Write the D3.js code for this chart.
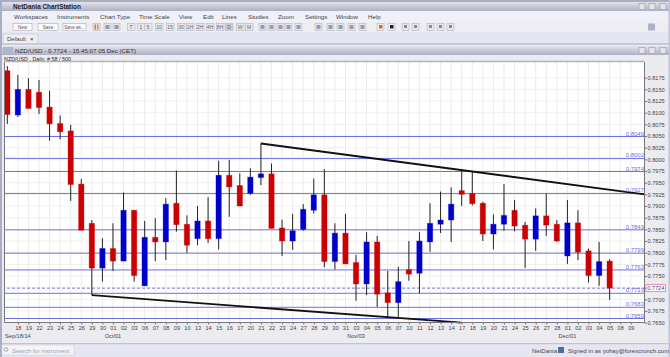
<!DOCTYPE html>
<html>
<head>
<meta charset="utf-8">
<script src="https://cdn.jsdelivr.net/npm/d3@7/dist/d3.min.js"></script>
<style>
  html, body { margin: 0; padding: 0; background: #ececf0; overflow: hidden; }
  svg { display: block; }
  text { font-family: "Liberation Sans", Arial, sans-serif; }
</style>
</head>
<body>
<svg id="page" width="670" height="357"></svg>
<script>
var dates = ['Sep 17','Sep 18','Sep 19','Sep 22','Sep 23','Sep 24','Sep 25','Sep 26','Sep 29','Sep 30',
  'Oct 01','Oct 02','Oct 03','Oct 06','Oct 07','Oct 08','Oct 09','Oct 10','Oct 13','Oct 14','Oct 15','Oct 16','Oct 17',
  'Oct 20','Oct 21','Oct 22','Oct 23','Oct 24','Oct 27','Oct 28','Oct 29','Oct 30','Oct 31',
  'Nov 03','Nov 04','Nov 05','Nov 06','Nov 07','Nov 10','Nov 11','Nov 12','Nov 13','Nov 14','Nov 17','Nov 18','Nov 19','Nov 20','Nov 21',
  'Nov 24','Nov 25','Nov 26','Nov 27','Nov 28','Dec 01','Dec 02','Dec 03','Dec 04','Dec 05'];
var opens = [.8190,.8095,.8150,.8144,.8112,.8077,.8061,.7947,.7863,.7767,
  .7809,.7782,.7891,.7729,.7833,.7823,.7906,.7861,.7830,.7868,.7830,.7966,.7944,
  .7927,.7961,.7969,.7853,.7825,.7850,.7891,.7924,.7781,.7842,
  .7779,.7733,.7823,.7714,.7693,.7764,.7756,.7823,.7861,.7870,.7933,.7927,.7906,.7840,.7861,
  .7891,.7859,.7829,.7879,.7861,.7793,.7864,.7804,.7751,.7782];
var highs = [.8200,.8181,.8174,.8170,.8147,.8094,.8074,.7958,.7870,.7831,
  .7863,.7929,.7891,.7868,.7874,.7917,.7976,.7880,.7900,.7919,.7997,.7999,.7970,
  .7981,.8034,.7991,.7871,.7883,.7904,.7959,.7979,.7863,.7883,
  .7795,.7844,.7836,.7761,.7770,.7825,.7844,.7906,.7931,.7940,.7977,.7974,.7909,.7882,.7947,
  .7913,.7866,.7895,.7927,.7870,.7913,.7891,.7809,.7823,.7786];
var lows = [.8076,.8091,.8109,.8097,.8040,.8043,.7911,.7848,.7709,.7738,
  .7761,.7782,.7738,.7729,.7782,.7784,.7845,.7800,.7816,.7821,.7807,.7877,.7900,
  .7924,.7945,.7852,.7793,.7806,.7847,.7884,.7769,.7764,.7776,
  .7697,.7709,.7684,.7661,.7661,.7740,.7713,.7802,.7842,.7823,.7900,.7901,.7825,.7807,.7847,
  .7846,.7767,.7804,.7836,.7823,.7776,.7784,.7736,.7729,.7699];
var closes = [.8096,.8150,.8109,.8111,.8076,.8059,.7946,.7848,.7767,.7809,
  .7782,.7891,.7751,.7833,.7823,.7904,.7860,.7816,.7868,.7830,.7966,.7941,.7900,
  .7962,.7969,.7852,.7825,.7847,.7893,.7924,.7781,.7842,.7776,
  .7733,.7823,.7711,.7693,.7738,.7754,.7825,.7863,.7870,.7904,.7925,.7905,.7840,.7861,.7880,
  .7857,.7829,.7879,.7859,.7825,.7864,.7801,.7751,.7781,.7724];
var extraDates = ['Dec 08','Dec 09'];
var priceTicks = [.7650,.7675,.7700,.7725,.7750,.7775,.7800,.7825,.7850,.7875,.7900,.7925,.7950,.7975,
  .8000,.8025,.8050,.8075,.8100,.8125,.8150,.8175];
var levelLines = [.8049,.8002,.7974,.7927,.7849,.7799,.7763,.7713,.7683,.7659];
var lastPrice = .7724;
var upperTrendStart = ['Oct 21', .8034], upperTrendEndPrice = .7925;
var lowerTrend = [['Sep 29', .7709], ['Nov 17', .7650]];
var monthMarks = [['Sep 18', 'Sep/18/14'], ['Oct 01', 'Oct/01'], ['Nov 03', 'Nov/03'], ['Dec 01', 'Dec/01']];

var menuItems = ['Workspaces','Instruments','Chart Type','Time Scale','View','Edit','Lines','Studies','Zoom','Settings','Window','Help'];
var menuX = [14,57,100,139,179,203,222,248,278,305,336,368];
var periodItems = ['T','1','5','10','15','30','1H','2H','4H','8H','D','W','M'];
var periodX = [131,141,148,159,170,181,190,200,210,220,229,240,249];
var fileItems = ['New','Save','Save as...'];
var fileX = [13,38,63], fileW = [19,20,23];

var svg = d3.select('#page');
var plot = { left: 4.5, right: 644.5, top: 62, bottom: 322.5 };

function rect(parent, x, y, w, h, fill, stroke) {
  return parent.append('rect').attr('x', x).attr('y', y).attr('width', w).attr('height', h)
    .attr('fill', fill).attr('stroke', stroke || 'none').attr('stroke-width', stroke ? 0.7 : 0);
}
function label(parent, x, y, str, size, color, anchor) {
  return parent.append('text').attr('x', x).attr('y', y).text(str)
    .attr('font-size', size).attr('fill', color).attr('text-anchor', anchor || 'start');
}

// WINDOW CHROME
var defs = svg.append('defs');
var barGrad = defs.append('linearGradient').attr('id', 'barGrad').attr('x1', 0).attr('x2', 0).attr('y1', 0).attr('y2', 1);
barGrad.append('stop').attr('offset', 0).attr('stop-color', '#e2e2e8');
barGrad.append('stop').attr('offset', 1).attr('stop-color', '#aeb0c4');

var chrome = svg.append('g');
rect(chrome, 0, 0, 670, 357, '#ececf0');
rect(chrome, 0, 2, 670, 9, 'url(#barGrad)');
rect(chrome, 0, 0, 670, 2, '#a9adc6');
rect(chrome, 0, 11, 670, 11, '#f0f0f8');
rect(chrome, 0, 22, 670, 10, '#eeeef2');
rect(chrome, 0, 32, 670, 11, '#e5e5f3');
rect(chrome, 0, 43, 670, 2, '#c5c7da');
rect(chrome, 0, 46, 670, 9, 'url(#barGrad)');
rect(chrome, 0, 343, 670, 1.5, '#c0c2d6');
rect(chrome, 0, 344.5, 670, 12.5, '#e5e5f3');
rect(chrome, 0, 0, 2, 357, '#a9adc6');
rect(chrome, 668.5, 0, 1.5, 357, '#c0c2d6');

label(chrome, 13, 9, 'NetDania ChartStation', 6.4, '#222').attr('font-weight', 'bold');
chrome.selectAll('.menu').data(menuItems).enter().append('text')
  .attr('class', 'menu')
  .attr('x', function (d, i) { return menuX[i]; })
  .attr('y', 18.5)
  .attr('font-size', 6.2)
  .attr('fill', '#444')
  .text(function (d) { return d; });

fileItems.forEach(function (d, i) {
  rect(chrome, fileX[i], 23.5, fileW[i], 7, '#fafafc', '#b5b5c5');
  label(chrome, fileX[i] + fileW[i] / 2, 29, d, 4.6, '#555', 'middle');
});
periodItems.forEach(function (d, i) {
  rect(chrome, periodX[i] - 3.5, 23.5, 7.5, 7, d === 'D' ? '#c9c9d8' : '#e6e6ee', '#bcbccb');
  label(chrome, periodX[i], 29, d, 5, '#666', 'middle');
});
// chart type and tool icons
rect(chrome, 93, 23.5, 7, 7, '#e6e6ee', '#bcbccb');
rect(chrome, 94.5, 24.5, 1.6, 5, '#e2791e');
rect(chrome, 97, 24.5, 1.6, 5, '#e2a01e');
[107,116,262,271,280,288,298,318,330,340,351,362].forEach(function (x, i) {
  rect(chrome, x - 3, 23.5, 7, 7, '#e6e6ee', '#bcbccb');
  rect(chrome, x - 1.5, 25, 4, 4, '#9a9aaa');
});
rect(chrome, 377, 23.5, 7, 7, '#eeeef2', '#bcbccb');
rect(chrome, 379, 25, 3.5, 3.5, '#e86a1a');
rect(chrome, 388, 23.5, 7, 7, '#eeeef2', '#bcbccb');
rect(chrome, 390, 25, 3.5, 3.5, '#222');
[405,415,430,440,450].forEach(function (x) {
  rect(chrome, x - 3, 23.5, 7, 7, '#e6e6ee', '#bcbccb');
  rect(chrome, x - 1, 25, 3, 3, '#888899');
});
rect(chrome, 648, 23.5, 7, 7, '#b0b3c8');

rect(chrome, 3, 34, 35, 9.5, '#eeeef2', '#c5c7da');
label(chrome, 7, 41, 'Default', 6, '#444');
label(chrome, 30, 41, '\u00d7', 6, '#222');

[642,652,663,642,652,663].forEach(function (x, i) {
  rect(chrome, x - 3, (i < 3 ? 3.5 : 47.5), 6, 6, '#e4e4ea', '#a0a0b0');
});

rect(chrome, 3, 47, 10, 7, '#b3b5c8');
label(chrome, 15, 53, 'NZD/USD - 0.7724 - 15:45:07  05 Dec (CET)', 6.2, '#333');
label(chrome, 4, 60.5, 'NZD/USD , Daily, # 58 / 500', 5.4, '#222');

// SCALES
var axisDates = dates.concat(extraDates);
var x = d3.scalePoint().domain(axisDates).range([7.3, 630.8]);
var y = d3.scaleLinear().domain([.7650, .8175]).range([322.7, 77.7]);

// PLOT BACKGROUND AND GRID
var gPlot = svg.append('g');
rect(gPlot, plot.left, plot.top, plot.right - plot.left, plot.bottom - plot.top, '#ffffff');

gPlot.selectAll('.gridV').data(axisDates.slice(1)).enter().append('line')
  .attr('class', 'gridV')
  .attr('x1', function (d) { return x(d); }).attr('x2', function (d) { return x(d); })
  .attr('y1', plot.top).attr('y2', plot.bottom)
  .attr('stroke', '#ebebeb').attr('stroke-width', 1);

gPlot.selectAll('.gridH').data(priceTicks).enter().append('line')
  .attr('class', 'gridH')
  .attr('x1', plot.left).attr('x2', plot.right)
  .attr('y1', function (d) { return y(d); }).attr('y2', function (d) { return y(d); })
  .attr('stroke', '#f0f0f0').attr('stroke-width', 1);

// LEVEL LINES
gPlot.selectAll('.level').data(levelLines).enter().append('line')
  .attr('class', 'level')
  .attr('x1', plot.left).attr('x2', plot.right)
  .attr('y1', function (d) { return y(d); }).attr('y2', function (d) { return y(d); })
  .attr('stroke', '#6f6fe6').attr('stroke-width', 1);

gPlot.append('line')
  .attr('x1', 7).attr('x2', plot.right)
  .attr('y1', y(lastPrice)).attr('y2', y(lastPrice))
  .attr('stroke', '#5a5ae0').attr('stroke-width', 0.8).attr('stroke-dasharray', '3,2');

// CANDLES
var candles = dates.map(function (d, i) {
  return { date: d, open: opens[i], high: highs[i], low: lows[i], close: closes[i] };
});
var colorOf = function (d) { return d.close < d.open ? '#cc0000' : '#0000cc'; };
var gCandles = svg.append('g');

gCandles.selectAll('.wick').data(candles).enter().append('line')
  .attr('class', 'wick')
  .attr('x1', function (d) { return x(d.date); }).attr('x2', function (d) { return x(d.date); })
  .attr('y1', function (d) { return y(d.high); }).attr('y2', function (d) { return y(d.low); })
  .attr('stroke', '#222').attr('stroke-width', 1);

gCandles.selectAll('.body').data(candles).enter().append('rect')
  .attr('class', 'body')
  .attr('x', function (d) { return x(d.date) - 2.7; })
  .attr('width', 5.4)
  .attr('y', function (d) { return y(Math.max(d.open, d.close)); })
  .attr('height', function (d) { return Math.abs(y(d.open) - y(d.close)); })
  .attr('fill', colorOf)
  .attr('stroke', colorOf).attr('stroke-opacity', 0.3).attr('stroke-width', 1);

// TREND LINES
var trendLine = d3.line();
var gTrend = svg.append('g');
gTrend.append('path')
  .attr('d', trendLine([[x(upperTrendStart[0]), y(upperTrendStart[1])], [plot.right, y(upperTrendEndPrice)]]))
  .attr('fill', 'none').attr('stroke', '#111').attr('stroke-width', 1.8);
gTrend.append('path')
  .attr('d', trendLine(lowerTrend.map(function (d) { return [x(d[0]), y(d[1])]; })))
  .attr('fill', 'none').attr('stroke', '#111').attr('stroke-width', 1.8);

// LEVEL LABELS
svg.append('g').selectAll('text').data(levelLines).enter().append('text')
  .attr('x', plot.right - 0.5)
  .attr('y', function (d) { return y(d) - 1; })
  .attr('text-anchor', 'end')
  .attr('font-size', 6)
  .attr('fill', '#6f6fe6')
  .text(function (d) { return d3.format('.4f')(d); });

// AXES
var yAxis = d3.axisRight(y).tickValues(priceTicks).tickSize(2.5).tickPadding(0.5).tickFormat(d3.format('.4f'));
var xAxis = d3.axisBottom(x).tickValues(axisDates.slice(1)).tickSize(2).tickPadding(2)
  .tickFormat(function (d) { return d.slice(-2); });

var gY = svg.append('g').attr('transform', 'translate(' + plot.right + ',0)').call(yAxis);
gY.select('.domain').remove();
gY.selectAll('.tick line').attr('stroke', '#cc5555');
gY.selectAll('.tick text').attr('font-size', 5.6).attr('fill', '#444').attr('font-family', null);

var gX = svg.append('g').attr('transform', 'translate(0,' + plot.bottom + ')').call(xAxis);
gX.select('.domain').remove();
gX.selectAll('.tick line').attr('stroke', '#cc5555');
gX.selectAll('.tick text').attr('font-size', 5.6).attr('fill', '#444').attr('font-family', null);

svg.append('g').selectAll('text').data(monthMarks).enter().append('text')
  .attr('x', function (d) { return x(d[0]); })
  .attr('y', 337.5)
  .attr('text-anchor', 'middle')
  .attr('font-size', 5.6)
  .attr('fill', '#444')
  .text(function (d) { return d[1]; });

// FRAME
var frame = svg.append('g').attr('fill', 'none');
frame.append('line').attr('x1', plot.left).attr('x2', plot.right).attr('y1', plot.top - 0.5).attr('y2', plot.top - 0.5)
  .attr('stroke', '#b4b4b4').attr('stroke-width', 1.5);
frame.append('line').attr('x1', plot.left).attr('x2', plot.left).attr('y1', plot.top).attr('y2', plot.bottom)
  .attr('stroke', '#777');
frame.append('line').attr('x1', plot.right).attr('x2', plot.right).attr('y1', plot.top).attr('y2', plot.bottom)
  .attr('stroke', '#777');
frame.append('line').attr('x1', plot.left).attr('x2', plot.right).attr('y1', plot.bottom).attr('y2', plot.bottom)
  .attr('stroke', '#777');

// CURRENT PRICE TAG
var tag = svg.append('g');
rect(tag, 646, y(lastPrice) - 3.5, 19.5, 7, '#ffffff', '#ee6666');
label(tag, 655.7, y(lastPrice) + 2, d3.format('.4f')(lastPrice), 5.6, '#3333cc', 'middle');

// STATUS BAR
var statusBar = svg.append('g');
rect(statusBar, 2, 345, 72, 10, '#f4f4f8', '#d0d0de');
label(statusBar, 12, 352.5, 'Search for instrument', 6, '#a0a0a8');
statusBar.append('circle').attr('cx', 6).attr('cy', 349.5).attr('r', 1.8).attr('fill', 'none').attr('stroke', '#777').attr('stroke-width', 0.6);
label(statusBar, 532, 352.5, 'NetDania', 6, '#444');
rect(statusBar, 558, 347, 6, 6, '#4a6f9e');
label(statusBar, 568, 352.5, 'Signed in as yohay@forexcrunch.com', 6, '#444');
</script>
</body>
</html>
